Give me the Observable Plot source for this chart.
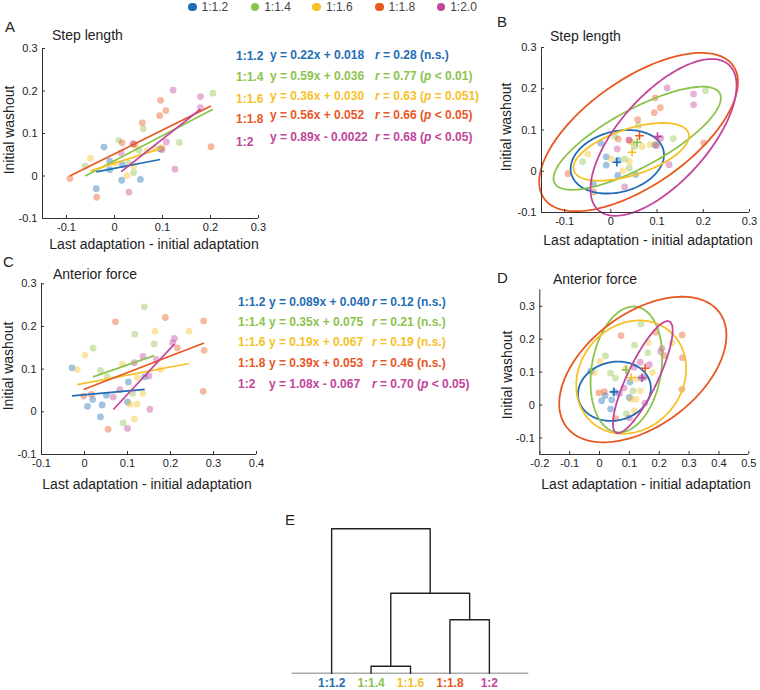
<!DOCTYPE html>
<html><head><meta charset="utf-8">
<script src="https://cdn.jsdelivr.net/npm/d3@7"></script>
<script src="https://cdn.jsdelivr.net/npm/@observablehq/plot@0.6"></script>
<style>
body{margin:0;background:#fff;}
#fig{position:relative;width:760px;height:690px;font-family:"Liberation Sans",Arial,Helvetica,sans-serif;color:#222;overflow:hidden;background:#fff;}
.abs{position:absolute;white-space:nowrap;}
</style></head><body><div id="fig"></div>
<script>
// ---------- data ----------
const groups = ["1:1.2", "1:1.4", "1:1.6", "1:1.8", "1:2"];
const legendLabels = ["1:1.2", "1:1.4", "1:1.6", "1:1.8", "1:2.0"];
const colors = ["#1f6db5", "#8cc34d", "#f6c127", "#e8571f", "#c2449b"];

// Step length: x = last adaptation - initial adaptation, y = initial washout
const stepX = [
  [-0.038, -0.022, -0.010, -0.010, 0.015, 0.016, 0.054, 0.095],
  [-0.061, 0.009, 0.030, 0.040, 0.051, 0.060, 0.135, 0.205],
  [-0.050, 0.001, 0.026, 0.040, 0.045, 0.068, 0.085, 0.099],
  [-0.093, -0.037, 0.016, 0.040, 0.058, 0.094, 0.096, 0.107, 0.201],
  [0.014, 0.030, 0.039, 0.099, 0.108, 0.122, 0.126, 0.179, 0.179]
];
const stepY = [
  [-0.030, 0.068, 0.035, 0.015, -0.010, 0.027, -0.008, 0.064],
  [0.023, 0.084, 0.030, 0.008, 0.060, 0.111, 0.079, 0.195],
  [0.042, 0.030, 0.001, 0.023, 0.070, 0.060, 0.065, 0.067],
  [-0.006, -0.050, 0.078, 0.075, 0.125, 0.142, 0.178, 0.154, 0.069],
  [0.054, -0.038, 0.076, 0.062, 0.080, 0.202, 0.016, 0.161, 0.187]
];
const stepSlope = [0.22, 0.59, 0.36, 0.56, 0.89];
const stepIntercept = [0.018, 0.036, 0.030, 0.052, -0.0022];
const stepEq = ["y = 0.22x + 0.018", "y = 0.59x + 0.036", "y = 0.36x + 0.030", "y = 0.56x + 0.052", "y = 0.89x - 0.0022"];
const stepR = ["0.28", "0.77", "0.63", "0.66", "0.68"];
const stepP = ["n.s.", "<i>p</i> &lt; 0.01", "<i>p</i> = 0.051", "<i>p</i> &lt; 0.05", "<i>p</i> &lt; 0.05"];
const stepMeanX = [0.013, 0.057, 0.046, 0.062, 0.101];
const stepMeanY = [0.022, 0.070, 0.046, 0.086, 0.084];
const stepEllCx = [0.014, 0.057, 0.044, 0.060, 0.114];
const stepEllCy = [0.023, 0.080, 0.047, 0.095, 0.082];
const stepEllRx = [0.101, 0.181, 0.125, 0.215, 0.158];
const stepEllRy = [0.077, 0.125, 0.070, 0.192, 0.190];
const stepEllTilt = [0.22, 0.78, 0.55, 0.63, 0.66];

// Anterior force
const forceX = [
  [-0.029, 0.007, 0.019, 0.037, 0.041, 0.051, 0.100, 0.102, 0.140],
  [0.020, 0.037, 0.053, 0.090, 0.112, 0.117, 0.139, 0.162],
  [-0.017, 0.001, 0.088, 0.106, 0.116, 0.122, 0.123, 0.136, 0.164, 0.177, 0.243],
  [-0.002, 0.016, 0.055, 0.072, 0.188, 0.216, 0.276, 0.277, 0.278],
  [0.067, 0.082, 0.100, 0.116, 0.136, 0.150, 0.152, 0.167, 0.205, 0.209]
];
const forceY = [
  [0.103, 0.013, 0.029, -0.012, 0.016, 0.039, 0.023, 0.070, 0.082],
  [0.149, 0.097, 0.082, -0.026, 0.043, 0.182, 0.246, 0.159],
  [0.099, 0.133, 0.112, 0.018, -0.017, 0.018, 0.080, 0.043, 0.189, 0.099, 0.189],
  [0.037, 0.041, -0.041, 0.211, 0.221, 0.150, 0.048, 0.213, 0.144],
  [0.035, 0.052, -0.039, 0.115, 0.130, 0.084, 0.006, 0.123, 0.162, 0.172]
];
const forceSlope = [0.089, 0.35, 0.19, 0.39, 1.08];
const forceIntercept = [0.040, 0.075, 0.067, 0.053, -0.067];
const forceEq = ["y = 0.089x + 0.040", "y = 0.35x + 0.075", "y = 0.19x + 0.067", "y = 0.39x + 0.053", "y = 1.08x - 0.067"];
const forceR = ["0.12", "0.21", "0.19", "0.46", "0.70"];
const forceP = ["n.s.", "n.s.", "n.s.", "n.s.", "<i>p</i> &lt; 0.05"];
const forceMeanX = [0.048, 0.089, 0.106, 0.153, 0.142];
const forceMeanY = [0.040, 0.107, 0.083, 0.112, 0.083];
const forceEllCx = [0.050, 0.090, 0.106, 0.145, 0.145];
const forceEllCy = [0.042, 0.108, 0.085, 0.108, 0.085];
const forceEllRx = [0.122, 0.120, 0.184, 0.280, 0.100];
const forceEllRy = [0.090, 0.191, 0.172, 0.221, 0.170];
const forceEllTilt = [0.10, 0.20, 0.15, 0.47, 0.83];

// Dendrogram (E): merges [left node, right node, height]; leaves are 0..4, merged nodes 5..
const dendroMerges = [[1, 2, 0.048], [3, 4, 0.37], [5, 6, 0.554], [0, 7, 1.0]];

// ---------- helpers ----------
const FONT = '"Liberation Sans", Arial, Helvetica, sans-serif';
const fig = document.getElementById("fig");
const fmt = d => Math.abs(d) < 1e-9 ? "0" : String(+d.toFixed(2));

function txt(html, x, base, size, o = {}) {
  const d = document.createElement("div");
  d.className = "abs";
  d.innerHTML = html;
  d.style.fontSize = size + "px";
  d.style.lineHeight = (size * 1.2) + "px";
  d.style.left = x + "px";
  d.style.top = (base - 0.9465 * size) + "px";
  d.style.color = o.color || "#222";
  if (o.weight) d.style.fontWeight = o.weight;
  if (o.anchor === "middle") d.style.transform = "translateX(-50%)";
  fig.appendChild(d);
  return d;
}
function vtxt(html, cx, cy, size) {
  const d = document.createElement("div");
  d.className = "abs";
  d.innerHTML = html;
  d.style.fontSize = size + "px";
  d.style.lineHeight = (size * 1.2) + "px";
  d.style.left = cx + "px";
  d.style.top = cy + "px";
  d.style.transform = "translate(-50%,-50%) rotate(-90deg)";
  fig.appendChild(d);
}

function pointRows(xs, ys) {
  const rows = [];
  groups.forEach((g, i) => xs[i].forEach((x, j) => rows.push({g, x, y: ys[i][j]})));
  return rows;
}
function regRows(xs, slope, intercept) {
  return groups.map((g, i) => {
    const x1 = d3.min(xs[i]), x2 = d3.max(xs[i]);
    return {g, x1, x2, y1: slope[i] * x1 + intercept[i], y2: slope[i] * x2 + intercept[i]};
  });
}
function ellipseRows(cx, cy, rx, ry, tilt) {
  const rows = [];
  groups.forEach((g, i) => {
    const phi = Math.acos(tilt[i]);
    for (let k = 0; k <= 160; k++) {
      const t = 2 * Math.PI * k / 160;
      rows.push({g, x: cx[i] + rx[i] * Math.cos(t), y: cy[i] + ry[i] * Math.cos(t - phi)});
    }
  });
  return rows;
}
function meanRows(mx, my) {
  return groups.map((g, i) => ({g, x: mx[i], y: my[i]}));
}

function panel(p) {
  const fw = p.width - p.mL - p.mR, fh = p.height - p.mT - p.mB;
  const tx = (p.xDomain[1] - p.xDomain[0]) * 3 / fw;
  const ty = (p.yDomain[1] - p.yDomain[0]) * 3 / fh;
  const x0 = p.xDomain[0], y0 = p.yDomain[0];
  const marks = [
    Plot.dot(pointRows(p.xs, p.ys), {x: "x", y: "y", fill: "g", r: 3.4, fillOpacity: 0.42}),
    ...p.extra,
    Plot.ruleX([x0], {y1: () => p.yDomain[0], y2: () => p.yDomain[1], stroke: "#333", strokeWidth: 1}),
    Plot.ruleY([y0], {x1: () => p.xDomain[0], x2: () => p.xDomain[1], stroke: "#333", strokeWidth: 1}),
    Plot.ruleX(p.xTicks, {x: d => d, y1: () => y0, y2: () => y0 + ty, stroke: "#333"}),
    Plot.ruleY(p.yTicks, {y: d => d, x1: () => x0, x2: () => x0 + tx, stroke: "#333"})
  ];
  const svg = Plot.plot({
    width: p.width, height: p.height,
    marginLeft: p.mL, marginRight: p.mR, marginTop: p.mT, marginBottom: p.mB,
    x: {domain: p.xDomain, ticks: p.xTicks, tickFormat: fmt, tickSize: 0, tickPadding: 5, label: null},
    y: {domain: p.yDomain, ticks: p.yTicks, tickFormat: fmt, tickSize: 0, tickPadding: 5, label: null},
    color: {domain: groups, range: colors},
    style: {fontFamily: FONT, fontSize: "11px", color: "#222", background: "transparent", overflow: "visible"},
    marks
  });
  svg.style.position = "absolute";
  svg.style.left = p.left + "px";
  svg.style.top = p.top + "px";
  fig.appendChild(svg);
}

// ---------- legend ----------
const legendX = [192.3, 255, 316.7, 379.3, 441];
legendLabels.forEach((l, i) => {
  const dot = document.createElement("div");
  dot.className = "abs";
  Object.assign(dot.style, {left: (legendX[i] - 4.4) + "px", top: (7 - 4.4) + "px", width: "8.8px", height: "8.8px", borderRadius: "50%", background: colors[i]});
  fig.appendChild(dot);
  txt(l, legendX[i] + 9.2, 11.3, 12, {color: "#444"});
});

// ---------- panel A ----------
const stepTicks = [-0.1, 0, 0.1, 0.2, 0.3];
panel({
  left: 0, top: 0, width: 262, height: 250, mL: 42, mR: 4, mT: 48, mB: 32,
  xDomain: [-0.15, 0.3], yDomain: [-0.1, 0.3], xTicks: stepTicks, yTicks: stepTicks,
  xs: stepX, ys: stepY,
  extra: [Plot.link(regRows(stepX, stepSlope, stepIntercept), {x1: "x1", y1: "y1", x2: "x2", y2: "y2", stroke: "g", strokeWidth: 1.7})]
});
txt("A", 5, 31.7, 15);
txt("Step length", 52, 40, 14);
vtxt("Initial washout", 8.5, 130, 14);
txt("Last adaptation - initial adaptation", 154, 249, 14, {anchor: "middle"});
const stepLabelBase = [60.3, 81.6, 103.6, 123.6, 146];
const stepEqBase = [59.3, 80.3, 100.3, 119.3, 141];
groups.forEach((g, i) => {
  txt(g, 236, stepLabelBase[i], 12, {color: colors[i], weight: "bold"});
  txt(stepEq[i], 270, stepEqBase[i], 12, {color: colors[i], weight: "bold"});
  txt("<i>r</i> = " + stepR[i] + " (" + stepP[i] + ")", 375, stepEqBase[i], 12, {color: colors[i], weight: "bold"});
});

// ---------- panel B ----------
panel({
  left: 500, top: 0, width: 260, height: 250, mL: 41, mR: 11, mT: 47, mB: 38,
  xDomain: [-0.15, 0.3], yDomain: [-0.1, 0.3], xTicks: stepTicks, yTicks: stepTicks,
  xs: stepX, ys: stepY,
  extra: [
    Plot.line(ellipseRows(stepEllCx, stepEllCy, stepEllRx, stepEllRy, stepEllTilt), {x: "x", y: "y", z: "g", stroke: "g", strokeWidth: 1.8}),
    Plot.dot(meanRows(stepMeanX, stepMeanY), {x: "x", y: "y", stroke: "g", symbol: "plus", r: 2.9, strokeWidth: 1.6})
  ]
});
txt("B", 497, 27.5, 15);
txt("Step length", 550, 41, 14);
vtxt("Initial washout", 505.5, 127, 14);
txt("Last adaptation - initial adaptation", 648, 245, 14, {anchor: "middle"});

// ---------- panel C ----------
const forceYTicks = [-0.1, 0, 0.1, 0.2, 0.3];
panel({
  left: 0, top: 250, width: 262, height: 230, mL: 41, mR: 6, mT: 33.3, mB: 26,
  xDomain: [-0.1, 0.4], yDomain: [-0.1, 0.3], xTicks: [-0.1, 0, 0.1, 0.2, 0.3, 0.4], yTicks: forceYTicks,
  xs: forceX, ys: forceY,
  extra: [Plot.link(regRows(forceX, forceSlope, forceIntercept), {x1: "x1", y1: "y1", x2: "x2", y2: "y2", stroke: "g", strokeWidth: 1.7})]
});
txt("C", 3, 267.3, 15);
txt("Anterior force", 53, 279, 14);
vtxt("Initial washout", 8, 366, 14);
txt("Last adaptation - initial adaptation", 147, 489, 14, {anchor: "middle"});
const forceBase = [306.3, 326.3, 346.3, 367, 388.6];
groups.forEach((g, i) => {
  txt(g, 238, forceBase[i], 12, {color: colors[i], weight: "bold"});
  txt(forceEq[i], 269, forceBase[i], 12, {color: colors[i], weight: "bold"});
  txt("<i>r</i> = " + forceR[i] + " (" + forceP[i] + ")", 372, forceBase[i], 12, {color: colors[i], weight: "bold"});
});

// ---------- panel D ----------
panel({
  left: 500, top: 250, width: 260, height: 230, mL: 39.3, mR: 11.7, mT: 39.3, mB: 26,
  xDomain: [-0.2, 0.5], yDomain: [-0.15, 0.35], xTicks: [-0.2, -0.1, 0, 0.1, 0.2, 0.3, 0.4, 0.5], yTicks: forceYTicks,
  xs: forceX, ys: forceY,
  extra: [
    Plot.line(ellipseRows(forceEllCx, forceEllCy, forceEllRx, forceEllRy, forceEllTilt), {x: "x", y: "y", z: "g", stroke: "g", strokeWidth: 1.8}),
    Plot.dot(meanRows(forceMeanX, forceMeanY), {x: "x", y: "y", stroke: "g", symbol: "plus", r: 2.9, strokeWidth: 1.6})
  ]
});
txt("D", 497, 283, 15);
txt("Anterior force", 553, 284, 14);
vtxt("Initial washout", 507, 375, 14);
txt("Last adaptation - initial adaptation", 646, 489, 14, {anchor: "middle"});

// ---------- panel E: dendrogram ----------
{
  const pos = groups.map((g, i) => i);
  const hgt = groups.map(() => 0);
  const links = [];
  dendroMerges.forEach(([a, b, h], k) => {
    links.push({id: k, x: pos[a], y: hgt[a]}, {id: k, x: pos[a], y: h}, {id: k, x: pos[b], y: h}, {id: k, x: pos[b], y: hgt[b]});
    pos.push((pos[a] + pos[b]) / 2);
    hgt.push(h);
  });
  const svg = Plot.plot({
    width: 260, height: 190, marginLeft: 11.7, marginRight: 11.7, marginTop: 28.3, marginBottom: 17.3,
    x: {domain: [-1, 5], axis: null},
    y: {domain: [0, 1], axis: null},
    color: {domain: groups, range: colors},
    style: {fontFamily: FONT, background: "transparent", overflow: "visible"},
    marks: [
      Plot.ruleY([0], {stroke: "#aaa", strokeWidth: 1.6}),
      Plot.line(links, {x: "x", y: "y", z: "id", stroke: "#222", strokeWidth: 1.4}),
      Plot.text(groups, {x: (d, i) => i, y: () => 0, text: d => d, fill: d => d, dy: 10.3, fontWeight: "bold", fontSize: 12})
    ]
  });
  svg.style.position = "absolute";
  svg.style.left = "280px";
  svg.style.top = "500px";
  fig.appendChild(svg);
  txt("E", 285, 525, 15);
}
</script></body></html>
